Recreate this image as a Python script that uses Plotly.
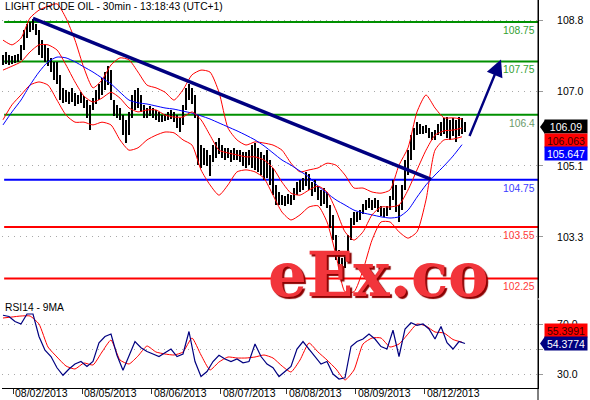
import plotly.graph_objects as go

title_text = "LIGHT CRUDE OIL - 30min - 13:18:43 (UTC+1)"
rsi_title = "RSI14 - 9MA"

# hourly price ranges (high / low)
highs = [107.91,107.99,107.91,107.89,107.91,107.94,108.17,108.55,108.70,108.75,
         108.83,108.70,108.55,108.29,108.17,108.09,107.84,107.74,107.74,107.41,
         107.08,107.03,106.97,107.08,106.95,106.90,106.97,106.87,106.77,106.65,
         106.82,107.03,107.18,107.33,107.48,107.63,107.53,106.77,106.65,106.57,
         106.39,106.27,106.47,106.90,107.03,107.08,106.90,106.65,106.57,106.62,
         106.57,106.52,106.47,106.39,106.42,106.47,106.52,106.47,106.39,106.32,
         106.65,107.08,107.18,107.08,106.90,106.39,105.63,105.56,105.50,105.38,
         105.63,105.71,105.81,105.63,105.56,105.56,105.50,105.56,105.50,105.50,
         105.45,105.45,105.50,105.63,105.68,105.56,105.45,105.38,105.50,105.25,
         105.05,104.62,104.44,104.36,104.34,104.39,104.36,104.54,104.69,104.74,
         104.79,104.95,104.90,104.69,104.74,104.59,104.49,104.54,104.44,104.11,
         103.86,103.35,102.97,102.77,102.84,103.35,103.78,103.93,103.93,103.98,
         104.14,104.24,104.29,104.24,104.29,104.24,104.09,104.03,104.09,104.34,
         104.74,104.62,104.11,104.62,105.25,105.50,105.88,106.06,106.22,106.17,
         106.11,106.14,106.06,105.96,106.01,106.17,106.22,106.32,106.34,106.27,
         106.32,106.27,106.34,106.32,106.22]
lows = [107.66,107.69,107.66,107.69,107.71,107.74,107.79,108.04,108.34,108.50,
        108.55,108.42,107.91,107.84,107.74,107.63,107.48,107.28,107.18,106.77,
        106.70,106.72,106.67,106.72,106.62,106.67,106.70,106.57,106.32,106.01,
        106.52,106.67,106.77,106.90,107.03,107.15,106.77,106.37,106.32,106.27,
        105.88,105.68,105.88,106.32,106.52,106.57,106.47,106.32,106.32,106.37,
        106.32,106.27,106.22,106.22,106.24,106.27,106.29,106.22,106.06,105.96,
        106.14,106.52,106.77,106.67,106.32,105.12,105.05,105.12,105.10,104.85,
        105.20,105.30,105.40,105.30,105.25,105.30,105.20,105.25,105.25,105.20,
        105.10,105.05,105.12,105.05,105.00,104.95,104.87,104.74,104.79,104.62,
        104.36,104.11,104.11,104.11,104.09,104.14,104.11,104.24,104.36,104.44,
        104.49,104.59,104.49,104.34,104.44,104.24,104.09,104.14,104.03,103.53,
        103.22,102.72,102.51,102.46,102.51,102.67,103.22,103.60,103.68,103.73,
        103.88,103.98,104.03,103.98,104.03,103.93,103.83,103.81,103.83,103.98,
        104.24,103.93,103.68,103.98,104.49,104.87,105.25,105.50,105.88,105.91,
        105.91,105.94,105.81,105.76,105.76,105.88,105.86,105.91,105.81,105.76,
        105.86,105.71,105.86,105.91,105.96]
bar_idx = list(range(len(highs)))

# indicator values (every 3 bars)
ind_idx = list(range(0, 154, 3))
mid_ma = [107.53,107.63,107.74,107.99,108.17,108.17,108.04,107.66,107.23,106.87,
          106.72,106.82,106.97,106.82,106.57,106.47,106.52,106.52,106.39,106.34,
          106.34,106.47,106.27,105.88,105.50,105.43,105.38,105.33,105.33,105.25,
          105.05,104.69,104.41,104.36,104.49,104.59,104.44,103.98,103.43,103.22,
          103.43,103.86,104.06,104.06,104.11,104.49,105.00,105.50,105.88,105.99,
          106.01,106.06]
upper_band = [108.29,108.17,108.34,108.85,109.05,109.15,109.21,108.85,108.29,107.58,
              107.08,107.28,107.66,107.84,107.79,107.48,107.15,107.08,106.97,106.77,
              107.03,107.41,107.53,107.48,106.97,106.06,105.76,105.63,105.71,105.68,
              105.63,105.50,105.17,104.95,105.00,105.05,105.17,105.12,104.87,104.54,
              104.54,104.44,104.41,104.49,105.12,105.56,106.47,106.90,106.57,106.32,
              106.32,106.29]
lower_band = [106.27,106.65,106.90,107.15,107.23,107.15,106.77,106.39,106.21,106.21,
              106.14,106.21,106.14,105.76,105.50,105.56,105.76,105.88,105.96,105.94,
              105.76,105.63,105.00,104.62,104.36,104.62,104.95,105.00,104.95,104.79,
              104.36,103.93,103.73,103.86,104.06,104.09,103.68,102.84,101.91,101.91,
              102.46,103.22,103.68,103.68,103.43,103.27,103.43,104.24,105.50,105.76,
              105.78,105.84]
slow_ma = [106.14,106.47,106.77,107.15,107.48,107.74,107.86,107.84,107.74,107.61,
           107.48,107.33,107.18,106.97,106.77,106.70,106.67,106.62,106.57,106.54,
           106.49,106.44,106.37,106.29,106.19,106.09,105.99,105.88,105.76,105.61,
           105.43,105.25,105.12,104.97,104.82,104.59,104.41,104.24,104.11,103.98,
           103.91,103.86,103.81,103.78,103.81,103.98,104.31,104.62,104.87,105.10,
           105.35,105.64]

# RSI (every 2 bars) and its 9-MA (every 3 bars)
rsi_idx = list(range(0, 155, 2))
rsi = [77,76,72,70,78,78,60,49,44,35,
       29,34,38,40,36,40,55,60,62,45,
       33,45,56,51,48,46,44,47,50,44,
       46,64,40,28,32,40,45,42,40,42,
       39,40,54,44,38,35,28,32,36,50,
       56,50,44,38,40,30,26,27,52,56,
       58,62,58,52,50,65,44,66,71,69,
       70,66,58,68,55,50,56,54.38]
rsi_ma = [74.8,75.6,76.4,76.4,70.0,51.6,43.6,36.4,34.0,38.8,
          37.2,47.6,57.2,41.2,38.0,44.4,52.4,47.6,46.0,45.2,
          47.6,58.8,45.2,33.2,39.6,43.6,42.8,42.8,43.6,45.2,
          42.8,36.4,31.6,41.2,54.8,47.6,41.2,34.0,25.2,33.2,
          54.0,58.8,58.8,51.6,54.0,62.0,70.0,68.4,63.6,62.8,
          57.6,55.4]

day_ticks = [3.5, 26.5, 49.5, 72.5, 94.5, 117.5, 140.5]
day_labels = ["08/02/2013", "08/05/2013", "08/06/2013", "08/07/2013",
              "08/08/2013", "08/09/2013", "08/12/2013"]
price_ticks = [108.8, 107.0, 105.1, 103.3]
rsi_ticks = [70, 50, 30]
rsi_tick_text = ["70.0", "", "30.0"]   # 50.0 sits behind the value box

levels = [108.75, 107.75, 106.4, 104.75, 103.55, 102.25]
level_labels = ["108.75", "107.75", "106.4", "104.75", "103.55", "102.25"]

trend_x = [10, 142.7]
trend_y = [108.84, 104.76]
arrow_x = [155.3, 166.0]
arrow_y = [105.82, 107.80]

last_close = 106.09
last_mid = 106.063
last_slow = 105.647
last_rsi = 54.3774
last_rsi_ma = 55.3991

# ---------------------------------------------------------------
FONT = "Liberation Sans, Arial, sans-serif"
level_line_colors = ["#009000", "#009000", "#009000", "#0000ff", "#ff0000", "#ff0000"]
level_text_colors = ["#33a033", "#33a033", "#6a9a6a", "#3a3aff", "#ff3a3a", "#ff3a3a"]

fig = go.Figure()

band_line = dict(color="#ff0000", width=1, shape="spline", smoothing=0.6)
fig.add_trace(go.Scatter(x=ind_idx, y=upper_band, mode="lines", line=band_line, xaxis="x", yaxis="y"))
fig.add_trace(go.Scatter(x=ind_idx, y=lower_band, mode="lines", line=band_line, xaxis="x", yaxis="y"))
fig.add_trace(go.Scatter(x=ind_idx, y=slow_ma, mode="lines",
                         line=dict(color="#0000ff", width=1, shape="spline", smoothing=0.6),
                         xaxis="x", yaxis="y"))
fig.add_trace(go.Scatter(x=ind_idx, y=mid_ma, mode="lines", line=band_line, xaxis="x", yaxis="y"))
fig.add_trace(go.Bar(x=bar_idx, y=[h - l for h, l in zip(highs, lows)], base=lows,
                     width=0.45, marker=dict(color="black", line=dict(width=0)),
                     xaxis="x", yaxis="y"))
fig.add_trace(go.Scatter(x=trend_x, y=trend_y, mode="lines",
                         line=dict(color="#000080", width=3.5), xaxis="x", yaxis="y"))

fig.add_trace(go.Scatter(x=ind_idx, y=rsi_ma, mode="lines",
                         line=dict(color="#ff0000", width=1, shape="spline", smoothing=0.5),
                         xaxis="x2", yaxis="y2"))
fig.add_trace(go.Scatter(x=rsi_idx, y=rsi, mode="lines",
                         line=dict(color="#000080", width=1.2), xaxis="x2", yaxis="y2"))

shapes = []
annotations = []
for lv, lab, lc, tc in zip(levels, level_labels, level_line_colors, level_text_colors):
    shapes.append(dict(type="line", xref="x domain", x0=0.004, x1=1, yref="y", y0=lv, y1=lv,
                       line=dict(color=lc, width=2), layer="below"))
    annotations.append(dict(xref="x domain", x=1, xanchor="right", xshift=-1,
                            yref="y", y=lv, yanchor="top", yshift=-1,
                            text=lab, showarrow=False,
                            font=dict(family=FONT, size=10.3, color=tc)))

# arrow
annotations.append(dict(x=arrow_x[1], y=arrow_y[1], ax=arrow_x[0], ay=arrow_y[0],
                        xref="x", yref="y", axref="x", ayref="y", text="",
                        showarrow=True, arrowhead=2, arrowsize=1.4, arrowwidth=2.4,
                        arrowcolor="#000080"))

# titles
annotations.append(dict(xref="paper", x=0, xanchor="left", xshift=1, yref="paper", y=1,
                        yanchor="top", yshift=1, text=title_text, showarrow=False,
                        font=dict(family=FONT, size=10.3, color="black")))
annotations.append(dict(xref="paper", x=0, xanchor="left", xshift=1, yref="paper", y=0.2268,
                        yanchor="top", yshift=0, text=rsi_title, showarrow=False,
                        font=dict(family=FONT, size=10.3, color="black")))

# date labels
for t, lab in zip(day_ticks, day_labels):
    annotations.append(dict(xref="x2", x=t, xanchor="left", xshift=1, yref="paper", y=0,
                            yanchor="bottom", yshift=-12, borderpad=0, text=lab, showarrow=False,
                            font=dict(family=FONT, size=10.5, color="black")))

# value boxes
def box(text, yref, y, yshift, bg, fg):
    annotations.append(dict(xref="paper", x=1, xanchor="left", xshift=6, yref=yref, y=y,
                            yanchor="middle", yshift=yshift, text=text, showarrow=False,
                            width=42, height=13, borderpad=0, bgcolor=bg, align="center",
                            font=dict(family=FONT, size=10.5, color=fg)))

def pointer(yref, y, color):
    shapes.append(dict(type="path", xref="paper", xsizemode="pixel", xanchor=1,
                       yref=yref, ysizemode="pixel", yanchor=y,
                       path="M 2,0 L 7,7 L 7,-7 Z", fillcolor=color, line=dict(width=0)))

box(f"{last_close:.2f}", "y", last_close, 0, "black", "white")
pointer("y", last_close, "black")
box(f"{last_mid:.3f}", "y", last_close, -13.5, "#ff0000", "#3a0000")
box(f"{last_slow:.3f}", "y", last_close, -27, "#0000ff", "white")
box(f"{last_rsi_ma:.4f}", "y2", last_rsi, 13.5, "#ff0000", "#3a0000")
box(f"{last_rsi:.4f}", "y2", last_rsi, 0, "#000080", "white")
pointer("y2", last_rsi, "#000080")

# watermark
annotations.append(dict(xref="x", x=125.3, yref="paper", y=0.232, yanchor="bottom", yshift=-14,
                        text="<b>eEx.co</b>", showarrow=False,
                        font=dict(family="DejaVu Serif", size=61, color="#f2353b",
                                  shadow="2px 2px 1px #8b0000")))

# right border down to bottom
shapes.append(dict(type="line", xref="paper", x0=1, x1=1, yref="paper", y0=-0.1, y1=1,
                   line=dict(color="black", width=1)))

grid = dict(showgrid=True, gridcolor="#a8a8a8", griddash="1px,5px", gridwidth=1)
fig.update_layout(
    width=590, height=400,
    margin=dict(l=2, r=52, t=0, b=12),
    paper_bgcolor="white", plot_bgcolor="white",
    showlegend=False, bargap=0,
    font=dict(family=FONT, size=10.5, color="black"),
    xaxis=dict(domain=[0, 1], anchor="y", range=[-0.33, 178.33], showticklabels=False,
               showgrid=False, zeroline=False, showline=False, ticks=""),
    yaxis=dict(domain=[0.232, 1], anchor="x", side="right", range=[101.753, 109.307],
               tickvals=price_ticks, ticktext=[f"{v:.1f}" for v in price_ticks],
               showline=True, linecolor="black", linewidth=1, ticks="outside", ticklen=4,
               tickcolor="#999999", zeroline=False, ticklabelstandoff=12,
               tickfont=dict(family=FONT, size=10.5, color="black"), **grid),
    xaxis2=dict(domain=[0, 1], anchor="y2", range=[-0.33, 178.33], tickvals=day_ticks,
                showticklabels=False, ticks="outside", ticklen=5, tickcolor="#333333",
                showline=True, linecolor="black", linewidth=1, showgrid=False, zeroline=False),
    yaxis2=dict(domain=[0, 0.2268], anchor="x2", side="right", range=[18.8, 89.2],
                tickvals=rsi_ticks, ticktext=rsi_tick_text,
                showline=True, linecolor="black", linewidth=1, ticks="outside", ticklen=4,
                tickcolor="#999999", zeroline=False, ticklabelstandoff=12,
                tickfont=dict(family=FONT, size=10.5, color="black"), **grid),
    shapes=shapes, annotations=annotations,
)

fig.write_html("out.html", config={"displayModeBar": False},
               post_script="document.body.style.margin='0px';document.body.style.padding='0px';")
